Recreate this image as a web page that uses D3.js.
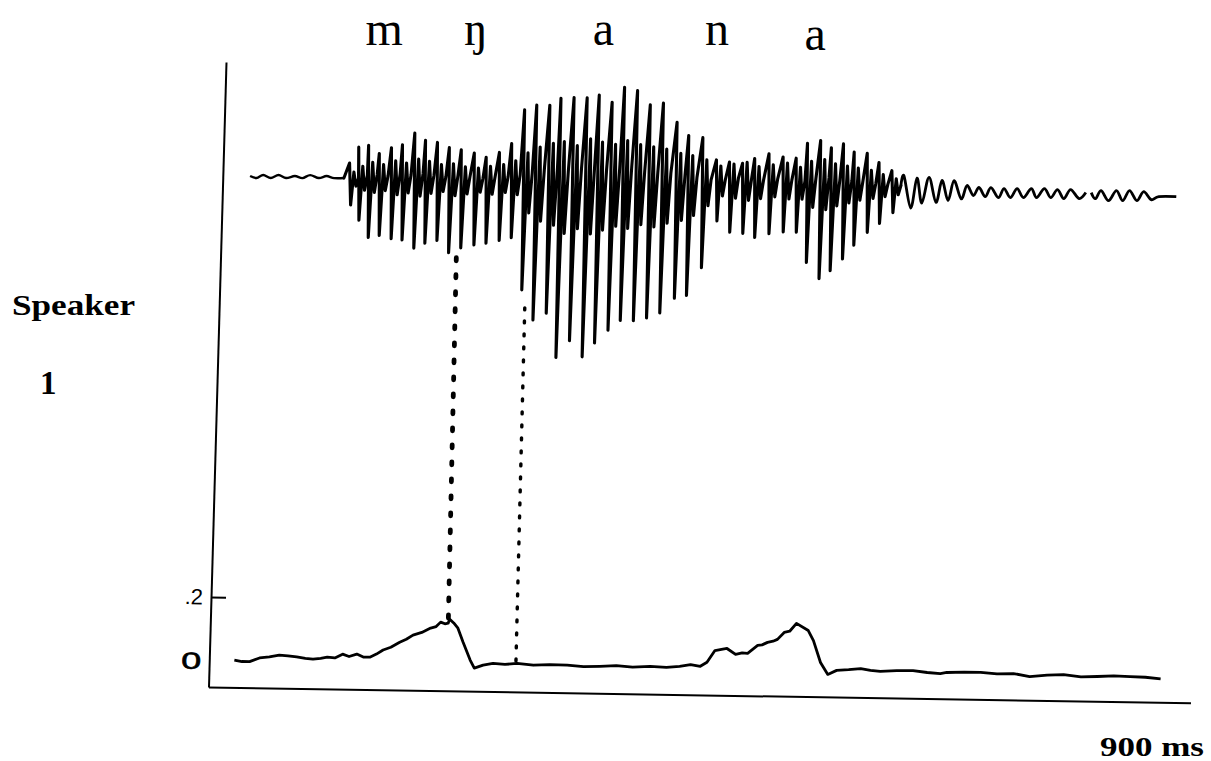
<!DOCTYPE html>
<html>
<head>
<meta charset="utf-8">
<script src="https://cdn.jsdelivr.net/npm/d3@7"></script>
<style>
  body { margin: 0; background: #fff; }
  svg { display: block; }
</style>
</head>
<body>
<svg id="chart" width="1211" height="761"></svg>
<script>
// ---- Segment labels (IPA) and their time positions, ms ----
const phonemes = ["m", "ŋ", "a", "n", "a"];
const phonemeTimes = [145, 229, 346, 450, 540];

// ---- Acoustic waveform: low-level ripple before voicing onset (ms, relative amplitude) ----
const preTimes = [25, 31, 37, 44, 51, 58, 66, 73, 80, 88, 95, 102, 111];
const preAmps  = [0.024, 0.005, 0.036, 0.007, 0.039, 0.010, 0.031, 0.012, 0.043, 0.015, 0.036, 0.017, 0.019];

// ---- Voiced glottal cycles: pulse time (ms), peak, trough and secondary ripple levels ----
const cycleTimes = [117, 125, 134, 144, 155, 165, 176, 186, 197, 208, 219, 231, 242, 254, 265,
                    276, 287, 299, 309, 321, 333, 344, 356, 367, 379, 391, 403, 416, 427, 440,
                    453, 465, 477, 488, 501, 514, 526, 536, 548, 558, 569, 579, 591, 602, 614];
const cyclePeaks = [0.17, 0.33, 0.35, 0.27, 0.33, 0.36, 0.48, 0.41, 0.39, 0.34, 0.32, 0.29, 0.25, 0.30, 0.39,
                    0.73, 0.78, 0.78, 0.85, 0.86, 0.86, 0.89, 0.82, 0.97, 0.94, 0.80, 0.82, 0.63, 0.50, 0.48,
                    0.26, 0.24, 0.23, 0.28, 0.33, 0.30, 0.29, 0.44, 0.47, 0.40, 0.44, 0.36, 0.35, 0.26, 0.18];
const cycleTroughs = [-0.25, -0.40, -0.57, -0.55, -0.58, -0.59, -0.67, -0.62, -0.59, -0.71, -0.66, -0.63, -0.61, -0.58, -0.55,
                      -1.07, -1.37, -1.30, -1.74, -1.57, -1.73, -1.59, -1.46, -1.36, -1.36, -1.33, -1.28, -1.13, -1.10, -0.82,
                      -0.35, -0.46, -0.47, -0.51, -0.47, -0.45, -0.45, -0.75, -0.91, -0.83, -0.71, -0.57, -0.44, -0.35, -0.24];
const rippleHi = [0.08, 0.14, 0.18, 0.16, 0.20, 0.18, 0.22, 0.20, 0.17, 0.18, 0.15, 0.14, 0.16, 0.18, 0.22,
                  0.30, 0.36, 0.40, 0.42, 0.38, 0.45, 0.42, 0.40, 0.44, 0.40, 0.38, 0.36, 0.32, 0.30, 0.26,
                  0.20, 0.22, 0.24, 0.20, 0.22, 0.24, 0.20, 0.26, 0.28, 0.24, 0.22, 0.20, 0.18, 0.14, 0.10];
const rippleLo = [-0.06, -0.10, -0.12, -0.10, -0.14, -0.12, -0.15, -0.12, -0.10, -0.14, -0.12, -0.10, -0.12, -0.10, -0.12,
                  -0.30, -0.38, -0.42, -0.50, -0.45, -0.50, -0.46, -0.42, -0.44, -0.40, -0.42, -0.38, -0.35, -0.30, -0.20,
                  -0.10, -0.12, -0.14, -0.12, -0.10, -0.12, -0.12, -0.20, -0.22, -0.18, -0.15, -0.12, -0.10, -0.08, -0.06];
// level the trace settles to just before each following pulse
const rippleMid = [0.02, 0.05, 0.06, 0.05, 0.07, 0.06, 0.08, 0.06, 0.05, 0.06, 0.05, 0.04, 0.05, 0.06, 0.08,
                   0.10, 0.14, 0.16, 0.12, 0.15, 0.18, 0.14, 0.16, 0.18, 0.14, 0.12, 0.12, 0.10, 0.08, 0.06,
                   0.06, 0.08, 0.07, 0.06, 0.08, 0.07, 0.06, 0.09, 0.10, 0.08, 0.07, 0.06, 0.05, 0.04, 0.03];

// ---- Decaying tail of the final vowel (null marks a break in the trace) ----
const tailTimes = [624, 631, 636, 641, 647, 654, 659, 665, 670, 677, 682, 688, 693, 699, 704, 711, 716, 722,
                   728, 734, 741, 746, 753, 759, 765, 771, 777, 785, 791, 793,
                   796, 800, 805, 812, 819, 825, 831, 838, 844, 851, 858, 874];
const tailAmps  = [0.13, -0.19, 0.11, -0.14, 0.12, -0.13, 0.09, -0.11, 0.09, -0.09, 0.044, -0.055, 0.026, -0.064,
                   0.027, -0.072, 0.019, -0.070, 0.021, -0.068, 0.024, -0.066, 0.026, -0.064, 0.017, -0.072,
                   0.020, -0.069, -0.008, null,
                   -0.007, -0.067, 0.014, -0.085, 0.017, -0.083, 0.019, -0.080, 0.011, -0.068, -0.037, -0.034];

// ---- Nasal airflow trace (ms, flow units; axis ticks at 0 and .2) ----
const flowTimes = [23, 30, 37, 46, 55, 64, 72, 80, 88, 95, 102, 108, 115, 122, 128, 135, 141, 147, 153, 159,
                   166, 174, 180, 186, 194, 202, 207, 211, 215, 218, 219, 223, 227, 232,
                   239, 243, 251, 260, 271, 282, 297, 312, 328, 343, 358, 373, 388, 404, 419, 431, 441, 450, 456, 463,
                   469, 474, 482, 488, 493, 502, 506, 511, 516, 520,
                   526, 531, 537, 548, 553, 560, 567, 575, 586, 597, 606, 615, 630, 645, 658, 670, 676, 692, 707,
                   722, 737, 752, 768, 783, 799, 814, 829, 844, 858, 872];
const flowValues = [0.004, 0.000, 0.000, 0.012, 0.016, 0.022, 0.020, 0.017, 0.013, 0.011, 0.014, 0.018, 0.016, 0.028, 0.021,
                    0.029, 0.020, 0.020, 0.030, 0.043, 0.052, 0.068, 0.078, 0.091, 0.100, 0.114, 0.119, 0.133, 0.128,
                    0.130, 0.143, 0.131, 0.115, 0.072,
                    0.016, -0.009, 0.001, 0.007, 0.004, 0.008, 0.003, 0.006, 0.005, 0.001, 0.003, 0.006, 0.002, 0.005,
                    0.003, 0.007, 0.013, 0.008, 0.021, 0.058, 0.062, 0.065, 0.047, 0.052, 0.051, 0.076, 0.078, 0.086,
                    0.090, 0.096,
                    0.118, 0.122, 0.147, 0.125, 0.094, 0.026, -0.011, 0.002, 0.005, 0.009, 0.004, 0.001, 0.004, 0.005,
                    0.000, -0.003, 0.001, 0.003, 0.003, -0.001, 0.001, -0.008, -0.002, 0.000, -0.006, -0.004, -0.001,
                    -0.003, -0.004, -0.008];
const flowTicks = [0, 0.2];

// ---- Alignment links between waveform events and airflow events ----
const linkWaveT   = [216, 280];
const linkWaveAmp = [-0.70, -1.19];
const linkFlowT   = [218, 281];
const linkFlowVal = [0.14, 0.009];

// ---- Layout ----
const W = 982, H = 625;
const svg = d3.select("#chart");

const x = d3.scaleLinear().domain([0, 900]).range([0, W]);
const yWave = d3.scaleLinear().domain([-1, 1]).range([216, 16]);
const yFlow = d3.scaleLinear().domain([0, 0.2]).range([599, 535]);
const yFrame = d3.scaleLinear().domain([0, 1]).range([H, 0]);

// plot panel, slightly sheared as on the original recording sheet
const plot = svg.append("g").attr("transform", "matrix(1,0.016,-0.028,1,226,62)");

// frame axes
plot.append("g")
  .attr("transform", `translate(0,${H})`)
  .call(d3.axisBottom(x).tickValues([]).tickSizeOuter(0))
  .call(g => g.select(".domain").attr("stroke-width", 2));
plot.append("g")
  .call(d3.axisLeft(yFrame).tickValues([]).tickSizeOuter(0))
  .call(g => g.select(".domain").attr("stroke-width", 2));

// airflow scale ticks (pointing inward)
plot.append("g")
  .call(d3.axisLeft(yFlow).tickValues(flowTicks).tickSize(-15).tickPadding(8)
        .tickFormat(d => d === 0 ? "0" : String(d).replace(/^0\./, ".")))
  .call(g => g.select(".domain").remove())
  .call(g => g.selectAll(".tick line").attr("stroke-width", 2))
  .call(g => g.selectAll(".tick").filter(d => d === 0).select("line").remove())
  .call(g => g.selectAll(".tick text")
        .attr("font-family", "'Liberation Sans', Arial, sans-serif")
        .attr("fill", "#000"))
  .call(g => g.selectAll(".tick").filter(d => d === 0).select("text")
        .attr("font-size", 23).attr("stroke", "#000").attr("stroke-width", 0.6)
        .attr("textLength", 20).attr("lengthAdjust", "spacingAndGlyphs"))
  .call(g => g.selectAll(".tick").filter(d => d !== 0).select("text")
        .attr("font-size", 22));

// ---- Waveform ----
const preLine = d3.line().x(d => x(d[0])).y(d => yWave(d[1])).curve(d3.curveCardinal);
const prePts = preTimes.map((t, i) => [t, preAmps[i]]);
plot.append("path").attr("d", preLine(prePts))
  .attr("fill", "none").attr("stroke", "#000").attr("stroke-width", 2.4).attr("stroke-linejoin", "round");

const spikePts = [prePts[prePts.length - 1]];
cycleTimes.forEach((t, i) => {
  spikePts.push([t - 1.2, cyclePeaks[i]]);
  spikePts.push([t + 0.8, cycleTroughs[i]]);
  spikePts.push([t + 3.0, rippleHi[i]]);
  spikePts.push([t + 5.2, rippleLo[i]]);
  spikePts.push([t + 7.4, rippleMid[i]]);
});
const spikeLine = d3.line().x(d => x(d[0])).y(d => yWave(d[1]));
plot.append("path").attr("d", spikeLine(spikePts))
  .attr("fill", "none").attr("stroke", "#000").attr("stroke-width", 3.1)
  .attr("stroke-linejoin", "round").attr("stroke-linecap", "round");

const tailPts = [spikePts[spikePts.length - 1]].concat(tailTimes.map((t, i) => [t, tailAmps[i]]));
const tailLine = d3.line().defined(d => d[1] !== null)
  .x(d => x(d[0])).y(d => yWave(d[1])).curve(d3.curveCardinal);
plot.append("path").attr("d", tailLine(tailPts))
  .attr("fill", "none").attr("stroke", "#000").attr("stroke-width", 2.8).attr("stroke-linejoin", "round");

// ---- Airflow trace ----
const flowLine = d3.line().x(d => x(d)).y((d, i) => yFlow(flowValues[i]));
plot.append("path").attr("d", flowLine(flowTimes))
  .attr("fill", "none").attr("stroke", "#000").attr("stroke-width", 2.8).attr("stroke-linejoin", "round");

// ---- Dotted alignment links ----
const linkStyles = [{w: 4.8, dash: "3 14"}, {w: 3.4, dash: "2 11"}];
linkWaveT.forEach((t, i) => {
  plot.append("line")
    .attr("x1", x(t)).attr("y1", yWave(linkWaveAmp[i]) + 6)
    .attr("x2", x(linkFlowT[i])).attr("y2", yFlow(linkFlowVal[i]))
    .attr("stroke", "#000").attr("stroke-width", linkStyles[i].w)
    .attr("stroke-dasharray", linkStyles[i].dash).attr("stroke-linecap", "round");
});

// ---- Segment labels above the waveform ----
svg.append("g").attr("transform", "translate(226,0)")
  .selectAll("text").data(phonemes).join("text")
  .attr("x", (d, i) => x(phonemeTimes[i]))
  .attr("y", (d, i) => i === phonemes.length - 1 ? 50 : 45)
  .attr("text-anchor", "middle")
  .attr("font-family", "'Liberation Serif', 'Times New Roman', serif")
  .attr("font-size", 48)
  .text(d => d);

// ---- Side and axis captions ----
svg.append("text").attr("x", 12).attr("y", 315)
  .attr("font-family", "'Liberation Serif', 'Times New Roman', serif")
  .attr("font-weight", "bold").attr("font-size", 30)
  .attr("textLength", 123).attr("lengthAdjust", "spacingAndGlyphs")
  .text("Speaker");
svg.append("text").attr("x", 40).attr("y", 394)
  .attr("font-family", "'Liberation Serif', 'Times New Roman', serif")
  .attr("font-weight", "bold").attr("font-size", 33)
  .text("1");
svg.append("text").attr("x", 1100).attr("y", 756)
  .attr("font-family", "'Liberation Serif', 'Times New Roman', serif")
  .attr("font-weight", "bold").attr("font-size", 28)
  .attr("textLength", 104).attr("lengthAdjust", "spacingAndGlyphs")
  .text("900 ms");
</script>
</body>
</html>
